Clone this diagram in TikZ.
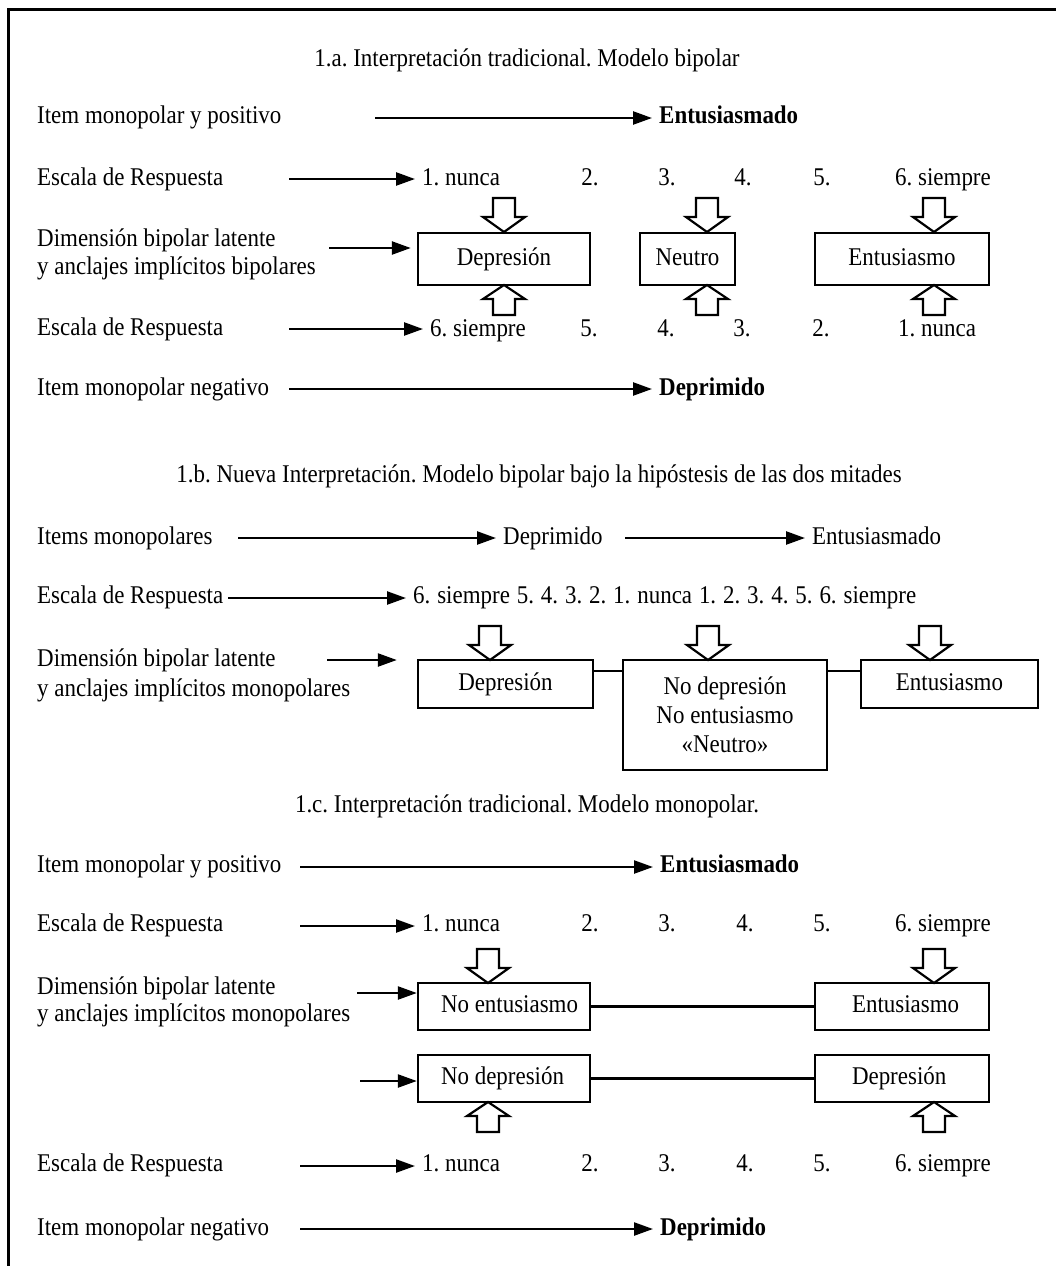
\documentclass[tikz,border=0pt]{standalone}
\usepackage{fontspec}
\setmainfont{Liberation Serif}[FakeStretch=0.9]
\usetikzlibrary{arrows.meta}
\begin{document}
\frenchspacing
\begin{tikzpicture}[x=1pt,y=-1pt,
  txt/.style={inner sep=0pt, text height=17pt, text depth=5pt, font=\fontsize{25.5}{31}\selectfont},
  btxt/.style={txt, font=\fontsize{25.5}{31}\selectfont\bfseries},
  arr/.style={line width=2.4pt, -{Triangle[length=19pt,width=13pt]}, shorten >=7pt},
  boxarr/.style={line width=2.4pt, -{Triangle[length=19pt,width=13pt]}},
  box/.style={draw, line width=2.4pt, txt},
  link/.style={line width=2.2pt},
  blk/.style={draw, line width=2.2pt, fill=white, line join=miter},
  downblk/.pic={\path[blk] (0,0) -- (-21,-15) -- (-11,-15) -- (-11,-34) -- (11,-34) -- (11,-15) -- (21,-15) -- cycle;},
  upblk/.pic={\path[blk] (0,0) -- (-21,14) -- (-11,14) -- (-11,30) -- (11,30) -- (11,14) -- (21,14) -- cycle;}]
\useasboundingbox (0,0) rectangle (1056,1266);
% frame
\draw[line width=3pt] (8,1270) -- (8,9) -- (1062,9);

% ================= 1.a =================
\node[txt] (ta) at (527,60) {1.a. Interpretación tradicional. Modelo bipolar};
\node[txt,anchor=west] (a1l) at (37,117) {Item monopolar y positivo};
\node[btxt,anchor=west] (a1r) at (659,117) {Entusiasmado};
\coordinate (a1s) at (375,118);
\draw[arr] (a1s) -- (a1s -| a1r.west);

\node[txt,anchor=west] (a2l) at (37,179) {Escala de Respuesta};
\node[txt,anchor=west] (a2n1) at (422,179) {1. nunca};
\node[txt] (a2n2) at (590,179) {2.};
\node[txt] (a2n3) at (667,179) {3.};
\node[txt] (a2n4) at (743,179) {4.};
\node[txt] (a2n5) at (822,179) {5.};
\node[txt,anchor=east] (a2n6) at (991,179) {6. siempre};
\coordinate (a2s) at (289,179);
\draw[arr] (a2s) -- (a2s -| a2n1.west);

\node[txt,anchor=west] (a3l) at (37,240) {Dimensión bipolar latente};
\node[txt,anchor=west] (a3m) at (37,268) {y anclajes implícitos bipolares};
\node[box,minimum width=172pt,minimum height=52pt] (adep) at (504,259) {Depresión};
\node[box,minimum width=95pt,minimum height=52pt] (aneu) at (687.5,259) {Neutro};
\node[box,minimum width=174pt,minimum height=52pt] (aent) at (902,259) {Entusiasmo};
\coordinate (a3s) at (329,248);
\draw[boxarr] (a3s) -- ([xshift=-6pt]a3s -| adep.west);
\pic at (504,232) {downblk};
\pic at (707,232) {downblk};
\pic at (934,232) {downblk};
\pic at (504,285) {upblk};
\pic at (707,285) {upblk};
\pic at (934,285) {upblk};

\node[txt,anchor=west] (a4l) at (37,329) {Escala de Respuesta};
\node[txt,anchor=west] (a4n6) at (430,330) {6. siempre};
\node[txt] (a4n5) at (589,330) {5.};
\node[txt] (a4n4) at (666,330) {4.};
\node[txt] (a4n3) at (742,330) {3.};
\node[txt] (a4n2) at (821,330) {2.};
\node[txt,anchor=west] (a4n1) at (898,330) {1. nunca};
\coordinate (a4s) at (289,329);
\draw[arr] (a4s) -- (a4s -| a4n6.west);

\node[txt,anchor=west] (a5l) at (37,389) {Item monopolar negativo};
\node[btxt,anchor=west] (a5r) at (659,389) {Deprimido};
\coordinate (a5s) at (289,389);
\draw[arr] (a5s) -- (a5s -| a5r.west);

% ================= 1.b =================
\node[txt] (tb) at (539,476) {1.b. Nueva Interpretación. Modelo bipolar bajo la hipóstesis de las dos mitades};
\node[txt,anchor=west] (b1l) at (37,538) {Items monopolares};
\node[txt,anchor=west] (b1d) at (503,538) {Deprimido};
\node[txt,anchor=west] (b1e) at (812,538) {Entusiasmado};
\coordinate (b1s) at (238,538);
\coordinate (b1t) at (625,538);
\draw[arr] (b1s) -- (b1s -| b1d.west);
\draw[arr] (b1t) -- (b1t -| b1e.west);

\node[txt,anchor=west] (b2l) at (37,597) {Escala de Respuesta};
\node[txt,anchor=west] (b2sc) at (413,597) {\spaceskip=0.27em plus 0.1em 6. siempre 5. 4. 3. 2. 1. nunca 1. 2. 3. 4. 5. 6. siempre};
\coordinate (b2s) at (228,598);
\draw[arr] (b2s) -- (b2s -| b2sc.west);

\node[txt,anchor=west] (b3l) at (37,660) {Dimensión bipolar latente};
\node[txt,anchor=west] (b3m) at (37,690) {y anclajes implícitos monopolares};
\node[box,minimum width=175pt,minimum height=48pt] (bdep) at (505.5,684) {Depresión};
\node[draw,line width=2.4pt,minimum width=204pt,minimum height=110pt,align=center,
      font=\fontsize{25.5}{29}\selectfont] (bneu) at (725,715) {No depresión\\No entusiasmo\\«Neutro»};
\node[box,minimum width=177pt,minimum height=48pt] (bent) at (949.5,684) {Entusiasmo};
\draw[link] ([yshift=-12pt]bdep.north east) -- ([yshift=-12pt]bneu.north west);
\draw[link] ([yshift=-12pt]bneu.north east) -- ([yshift=-12pt]bent.north west);
\coordinate (b3s) at (327,660);
\draw[boxarr] (b3s) -- ([xshift=-20pt]b3s -| bdep.west);
\pic at (490,660) {downblk};
\pic at (708,660) {downblk};
\pic at (930,660) {downblk};

% ================= 1.c =================
\node[txt] (tc) at (527,806) {1.c. Interpretación tradicional. Modelo monopolar.};
\node[txt,anchor=west] (c1l) at (37,866) {Item monopolar y positivo};
\node[btxt,anchor=west] (c1r) at (660,866) {Entusiasmado};
\coordinate (c1s) at (300,867);
\draw[arr] (c1s) -- (c1s -| c1r.west);

\node[txt,anchor=west] (c2l) at (37,925) {Escala de Respuesta};
\node[txt,anchor=west] (c2n1) at (422,925) {1. nunca};
\node[txt] (c2n2) at (590,925) {2.};
\node[txt] (c2n3) at (667,925) {3.};
\node[txt] (c2n4) at (745,925) {4.};
\node[txt] (c2n5) at (822,925) {5.};
\node[txt,anchor=east] (c2n6) at (991,925) {6. siempre};
\coordinate (c2s) at (300,926);
\draw[arr] (c2s) -- (c2s -| c2n1.west);

\node[txt,anchor=west] (c3l) at (37,988) {Dimensión bipolar latente};
\node[txt,anchor=west] (c3m) at (37,1015) {y anclajes implícitos monopolares};
\node[box,minimum width=172pt,minimum height=47pt] (cne) at (504,1006.5) {};
\node[box,minimum width=174pt,minimum height=47pt] (cen) at (902,1006.5) {};
\node[box,minimum width=172pt,minimum height=47pt] (cnd) at (504,1078.5) {};
\node[box,minimum width=174pt,minimum height=47pt] (cde) at (902,1078.5) {};
\node[txt,anchor=west] (cnet) at ([xshift=24pt]cne.west) {No entusiasmo};
\node[txt,anchor=west] (cent) at ([xshift=38pt]cen.west) {Entusiasmo};
\node[txt,anchor=west] (cndt) at ([xshift=24pt]cnd.west) {No depresión};
\node[txt,anchor=west] (cdet) at ([xshift=38pt]cde.west) {Depresión};
\draw[link] (cne) -- (cen);
\draw[link] (cnd) -- (cde);
\coordinate (c3s) at (357,993);
\draw[boxarr] (c3s) -- (c3s -| cne.west);
\coordinate (c4s) at (360,1081);
\draw[boxarr] (c4s) -- (c4s -| cnd.west);
\pic at (488,983) {downblk};
\pic at (934,983) {downblk};
\pic at (488,1102) {upblk};
\pic at (934,1102) {upblk};

\node[txt,anchor=west] (c5l) at (37,1165) {Escala de Respuesta};
\node[txt,anchor=west] (c5n1) at (422,1165) {1. nunca};
\node[txt] (c5n2) at (590,1165) {2.};
\node[txt] (c5n3) at (667,1165) {3.};
\node[txt] (c5n4) at (745,1165) {4.};
\node[txt] (c5n5) at (822,1165) {5.};
\node[txt,anchor=east] (c5n6) at (991,1165) {6. siempre};
\coordinate (c5s) at (300,1166);
\draw[arr] (c5s) -- (c5s -| c5n1.west);

\node[txt,anchor=west] (c6l) at (37,1229) {Item monopolar negativo};
\node[btxt,anchor=west] (c6r) at (660,1229) {Deprimido};
\coordinate (c6s) at (300,1229);
\draw[arr] (c6s) -- (c6s -| c6r.west);
\end{tikzpicture}
\end{document}
